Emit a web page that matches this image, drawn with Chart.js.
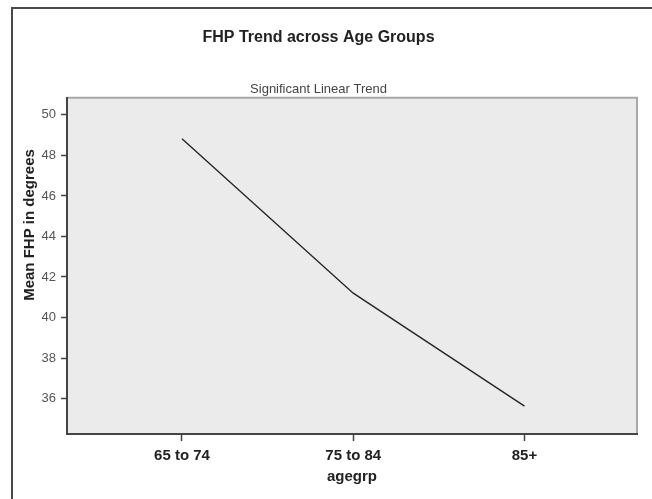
<!DOCTYPE html>
<html>
<head>
<meta charset="utf-8">
<script src="https://cdn.jsdelivr.net/npm/chart.js@4.4.1/dist/chart.umd.min.js"></script>
<style>
  html, body { margin: 0; padding: 0; background: #fff; }
</style>
</head>
<body>
<canvas id="fhpChart" width="652" height="499"></canvas>
<script>
// data
var ageGroups = ["65 to 74", "75 to 84", "85+"];
var meanFhp = [48.82, 41.2, 35.63];
var yTicks = [36, 38, 40, 42, 44, 46, 48, 50];

var FONT = "'Liberation Sans', Arial, sans-serif";

var points = [];
for (var i = 0; i < ageGroups.length; i++) {
  points.push({ x: i, y: meanFhp[i] });
}

// grey plot panel + outer frame + y axis title
var spssFrame = {
  id: "spssFrame",
  beforeDraw: function(chart) {
    var ctx = chart.ctx, a = chart.chartArea;
    ctx.save();
    ctx.fillStyle = "#fff";
    ctx.fillRect(0, 0, chart.width, chart.height);
    // outer frame (top and left only)
    ctx.strokeStyle = "#4a4a4a";
    ctx.lineWidth = 2;
    ctx.beginPath();
    ctx.moveTo(12, chart.height);
    ctx.lineTo(12, 8);
    ctx.lineTo(chart.width, 8);
    ctx.stroke();
    // panel
    ctx.fillStyle = "#ebebeb";
    ctx.fillRect(a.left, a.top, a.right - a.left, a.bottom - a.top);
    ctx.strokeStyle = "#a8a8a8";
    ctx.lineWidth = 2;
    ctx.beginPath();
    ctx.moveTo(a.left, a.top);
    ctx.lineTo(a.right, a.top);
    ctx.lineTo(a.right, a.bottom);
    ctx.stroke();
    ctx.restore();
  },
  afterDraw: function(chart) {
    var ctx = chart.ctx;
    ctx.save();
    ctx.translate(30, 225);
    ctx.rotate(-Math.PI / 2);
    ctx.font = "bold 15px " + FONT;
    ctx.fillStyle = "#222";
    ctx.textAlign = "center";
    ctx.textBaseline = "middle";
    ctx.fillText("Mean FHP in degrees", 0, 0);
    ctx.restore();
  }
};

new Chart(document.getElementById("fhpChart"), {
  type: "line",
  data: {
    datasets: [{
      data: points,
      borderColor: "#262626",
      borderWidth: 1.4,
      pointRadius: 0,
      tension: 0,
      fill: false
    }]
  },
  options: {
    responsive: false,
    animation: false,
    layout: { padding: { left: 0, right: 15, top: 0, bottom: 0 } },
    plugins: {
      legend: { display: false },
      tooltip: { enabled: false },
      title: {
        display: true,
        text: "FHP Trend across Age Groups",
        color: "#222",
        font: { family: FONT, size: 16, weight: "bold", lineHeight: 1.2 },
        padding: { top: 28.4, bottom: 34 }
      },
      subtitle: {
        display: true,
        text: "Significant Linear Trend",
        color: "#444",
        font: { family: FONT, size: 13, lineHeight: 1.2 },
        padding: { top: 0, bottom: 0.5 }
      }
    },
    scales: {
      x: {
        type: "linear",
        min: -0.6715,
        max: 2.657,
        afterFit: function(s) { s.height = 65; },
        afterBuildTicks: function(s) {
          s.ticks = ageGroups.map(function(g, i) { return { value: i }; });
        },
        ticks: {
          includeBounds: false,
          stepSize: 1,
          padding: 6,
          color: "#222",
          font: { family: FONT, size: 15, weight: "bold" },
          callback: function(v) { return ageGroups[v]; }
        },
        grid: { drawOnChartArea: false, drawTicks: true, tickLength: 7, tickColor: "#444", tickWidth: 1.5 },
        border: { display: true, color: "#444", width: 2 },
        title: {
          display: true,
          text: "agegrp",
          color: "#222",
          font: { family: FONT, size: 15, weight: "bold", lineHeight: 1.2 },
          padding: { top: 0, bottom: 13 }
        }
      },
      y: {
        min: 34.25,
        max: 50.85,
        afterFit: function(s) { s.width = 67; },
        afterBuildTicks: function(s) {
          s.ticks = yTicks.map(function(t) { return { value: t }; });
        },
        ticks: {
          includeBounds: false,
          padding: 5,
          color: "#555",
          font: { family: FONT, size: 13 }
        },
        grid: { drawOnChartArea: false, drawTicks: true, tickLength: 6, tickColor: "#444", tickWidth: 1.5 },
        border: { display: true, color: "#444", width: 2 }
      }
    }
  },
  plugins: [spssFrame]
});
</script>
</body>
</html>
